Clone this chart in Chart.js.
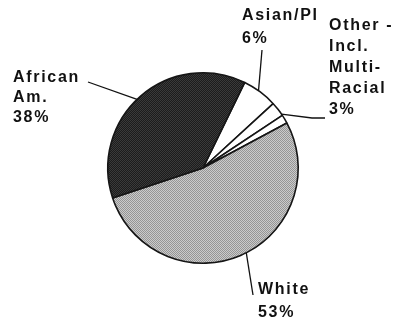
<!DOCTYPE html>
<html>
<head>
<meta charset="utf-8">
<script src="https://cdn.jsdelivr.net/npm/chart.js@4.4.1/dist/chart.umd.min.js"></script>
<style>
  html, body { margin: 0; padding: 0; background: #fff; }
  #wrap { width: 401px; height: 325px; position: relative; }
</style>
</head>
<body>
<div id="wrap"><canvas id="pie" width="401" height="325"></canvas></div>
<script>
// datos (sentido horario desde la linea negro/Asian)
const categorias = ['Asian/PI', 'Other - Incl. Multi-Racial', 'Sin etiqueta', 'White', 'African Am.'];
const valores = [6, 2.5, 1.5, 53, 37.5];
const etiquetas = [
    ['Asian/PI', '6%'],
    ['Other -', 'Incl.', 'Multi-', 'Racial', '3%'],
    null,
    ['White', '53%'],
    ['African', 'Am.', '38%']
];

// texturas de trama tipo escaneo
function trama(base, punto, tam) {
    const c = document.createElement('canvas');
    c.width = tam; c.height = tam;
    const g = c.getContext('2d');
    g.fillStyle = base; g.fillRect(0, 0, tam, tam);
    g.fillStyle = punto;
    for (let y = 0; y < tam; y++) {
        for (let x = 0; x < tam; x++) {
            if ((x + y) % 2 === 0) g.fillRect(x, y, 1, 1);
        }
    }
    return g.createPattern(c, 'repeat');
}

const ctx = document.getElementById('pie').getContext('2d');
const colores = [
    '#ffffff',
    '#ffffff',
    '#ffffff',
    trama('#cbcbcb', '#959595', 4),
    trama('#1c1c1c', '#3a3a3a', 4)
];

// lineas guia y textos
const etiquetasPlugin = {
    id: 'etiquetas',
    afterDatasetsDraw(chart) {
        const c = chart.ctx;
        const arcos = chart.getDatasetMeta(0).data;
        // fraccion dentro de la porcion, puntos relativos al centro, posicion del texto
        const guias = [
            { i: 0, f: 0.45, pts: [[59, -118]], tx: 242, ty: 20, lh: 23 },
            { i: 1, f: 0.9, pts: [[109, -50], [122, -50]], tx: 329, ty: 30, lh: 21 },
            { i: 3, f: 0.48, pts: [[50, 127]], tx: 258, ty: 294, lh: 23 },
            { i: 4, f: 0.48, pts: [[-115, -86]], tx: 13, ty: 82, lh: 20 }
        ];
        c.save();
        c.strokeStyle = '#111';
        c.lineWidth = 1.3;
        guias.forEach(g => {
            const a = arcos[g.i];
            const ang = a.startAngle + (a.endAngle - a.startAngle) * g.f;
            c.beginPath();
            c.moveTo(a.x + Math.cos(ang) * a.outerRadius, a.y + Math.sin(ang) * a.outerRadius);
            g.pts.forEach(p => c.lineTo(a.x + p[0], a.y + p[1]));
            c.stroke();

            c.fillStyle = '#111';
            c.font = 'bold 16px "Liberation Sans", Arial, sans-serif';
            c.letterSpacing = '1.7px';
            c.textBaseline = 'alphabetic';
            etiquetas[g.i].forEach((linea, k) => c.fillText(linea, g.tx, g.ty + k * g.lh));
        });
        c.restore();
    }
};

new Chart(ctx, {
    type: 'pie',
    data: {
        labels: categorias,
        datasets: [{
            data: valores,
            backgroundColor: colores,
            borderColor: '#151515',
            borderWidth: 1.6
        }]
    },
    options: {
        responsive: false,
        animation: false,
        rotation: 26,
        layout: { padding: { left: 107, right: 102, top: 72, bottom: 61 } },
        plugins: { legend: { display: false }, tooltip: { enabled: false } }
    },
    plugins: [etiquetasPlugin]
});
</script>
</body>
</html>
